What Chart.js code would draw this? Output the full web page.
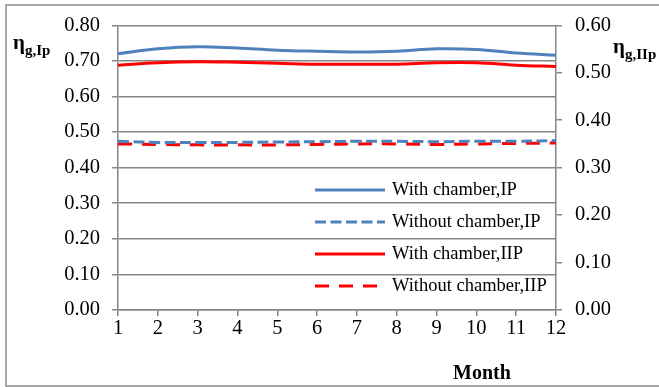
<!DOCTYPE html>
<html>
<head>
<meta charset="utf-8">
<script src="https://cdn.jsdelivr.net/npm/chart.js@4/dist/chart.umd.min.js"></script>
<style>
  html, body { margin: 0; padding: 0; background: #fff; }
  #wrap { width: 659px; height: 387px; position: relative; }
</style>
</head>
<body>
<div id="wrap"><canvas id="c" width="659" height="387"></canvas></div>
<script>
// Months on the horizontal axis
const months = ['1', '2', '3', '4', '5', '6', '7', '8', '9', '10', '11', '12'];

// Exergy-type efficiency, first-law basis (left axis)
const withChamberIP    = [0.720, 0.734, 0.740, 0.736, 0.730, 0.727, 0.725, 0.727, 0.734, 0.732, 0.722, 0.716];
const withoutChamberIP = [0.474, 0.471, 0.471, 0.471, 0.472, 0.473, 0.474, 0.474, 0.473, 0.474, 0.474, 0.476];

// Second-law basis (right axis)
const withChamberIIP    = [0.516, 0.521, 0.523, 0.522, 0.520, 0.518, 0.518, 0.518, 0.521, 0.521, 0.516, 0.513];
const withoutChamberIIP = [0.350, 0.349, 0.348, 0.348, 0.348, 0.349, 0.350, 0.350, 0.349, 0.350, 0.351, 0.352];

const seriesNames = ['With chamber,IP', 'Without chamber,IP', 'With chamber,IIP', 'Without chamber,IIP'];

const SERIF = '"Liberation Serif", "Times New Roman", serif';
const GRID = '#868686';
const BLUE = '#4F81BD';
const RED = '#FF0000';

// Frame, axis titles with subscripts and an in-plot legend
const decorations = {
  id: 'decorations',
  afterDraw(chart) {
    const ctx = chart.ctx;
    ctx.save();
    // outer frame
    ctx.strokeStyle = '#8c8c8c';
    ctx.lineWidth = 1.5;
    ctx.strokeRect(6, 5, 670, 381);

    ctx.fillStyle = '#000';
    ctx.textBaseline = 'alphabetic';
    ctx.textAlign = 'left';

    // left axis title  η g,Ip
    ctx.font = 'bold 21px ' + SERIF;
    ctx.fillText('η', 13, 49);
    ctx.font = 'bold 15px ' + SERIF;
    ctx.fillText('g,Ip', 25, 55);

    // right axis title  η g,IIp
    ctx.font = 'bold 21px ' + SERIF;
    ctx.fillText('η', 613, 53);
    ctx.font = 'bold 15px ' + SERIF;
    ctx.fillText('g,IIp', 625, 59);

    // horizontal axis title
    ctx.font = 'bold 20px ' + SERIF;
    ctx.textAlign = 'center';
    ctx.fillText('Month', 482, 379);
    ctx.textAlign = 'left';

    // legend
    const rows = [190, 222, 254, 286];
    chart.data.datasets.forEach((ds, i) => {
      const y = rows[i];
      ctx.beginPath();
      ctx.strokeStyle = ds.borderColor;
      ctx.lineWidth = ds.borderWidth;
      ctx.setLineDash(ds.borderDash || []);
      ctx.moveTo(315, y);
      ctx.lineTo(385, y);
      ctx.stroke();
      ctx.setLineDash([]);
      ctx.font = '18.5px ' + SERIF;
      ctx.textBaseline = 'middle';
      ctx.fillStyle = '#000';
      ctx.fillText(ds.label, 392, y);
    });
    ctx.restore();
  }
};

const tickFont = { family: SERIF, size: 20.5 };

new Chart(document.getElementById('c'), {
  type: 'line',
  data: {
    labels: months,
    datasets: [
      { label: seriesNames[0], data: withChamberIP, yAxisID: 'y',
        borderColor: BLUE, borderWidth: 3, tension: 0.4, pointRadius: 0 },
      { label: seriesNames[1], data: withoutChamberIP, yAxisID: 'y',
        borderColor: BLUE, borderWidth: 3, borderDash: [11, 4.5], tension: 0.4, pointRadius: 0 },
      { label: seriesNames[2], data: withChamberIIP, yAxisID: 'y2',
        borderColor: RED, borderWidth: 3, tension: 0.4, pointRadius: 0 },
      { label: seriesNames[3], data: withoutChamberIIP, yAxisID: 'y2',
        borderColor: RED, borderWidth: 3, borderDash: [14, 10], tension: 0.4, pointRadius: 0 }
    ]
  },
  options: {
    responsive: false,
    animation: false,
    devicePixelRatio: 1,
    layout: { padding: { top: 23, bottom: 0, left: 0, right: 0 } },
    plugins: { legend: { display: false }, tooltip: { enabled: false } },
    scales: {
      x: {
        type: 'category',
        offset: false,
        grid: { drawOnChartArea: false, drawTicks: true, tickLength: 6, color: GRID, lineWidth: 1.5 },
        border: { color: GRID, width: 1.5 },
        ticks: { font: tickFont, color: '#000', padding: 0, maxRotation: 0, autoSkip: false },
        afterFit(s) { s.height = 77; }
      },
      y: {
        position: 'left',
        min: 0, max: 0.8,
        grid: { color: GRID, lineWidth: 1.5, tickLength: 6 },
        border: { color: GRID, width: 1.5 },
        ticks: { stepSize: 0.1, font: tickFont, color: '#000', padding: 12,
                 callback: v => Number(v).toFixed(2) },
        afterFit(s) { s.width = 118; }
      },
      y2: {
        position: 'right',
        min: 0, max: 0.6,
        grid: { drawOnChartArea: false, color: GRID, lineWidth: 1.5, tickLength: 6 },
        border: { color: GRID, width: 1.5 },
        ticks: { stepSize: 0.1, font: tickFont, color: '#000', padding: 13,
                 callback: v => Number(v).toFixed(2) },
        afterFit(s) { s.width = 103; }
      }
    }
  },
  plugins: [decorations]
});
</script>
</body>
</html>
